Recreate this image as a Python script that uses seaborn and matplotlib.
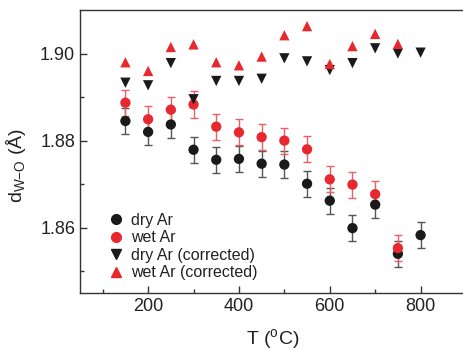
import numpy as np
import pandas as pd
import matplotlib
matplotlib.use("Agg")
import matplotlib.pyplot as plt
from matplotlib.lines import Line2D
import seaborn as sns

# ---- data ----
T_dry = [150, 200, 250, 300, 350, 400, 450, 500, 550, 600, 650, 700, 750, 800]
d_dry = [1.8845, 1.8820, 1.8837, 1.8779, 1.8756, 1.8758, 1.8747, 1.8745, 1.8701,
         1.8662, 1.8599, 1.8653, 1.8540, 1.8583]
err_dry = [0.003] * 14

T_wet = [150, 200, 250, 300, 350, 400, 450, 500, 550, 600, 650, 700, 750]
d_wet = [1.8887, 1.8849, 1.8871, 1.8883, 1.8832, 1.8819, 1.8808, 1.8800, 1.8780,
         1.8711, 1.8699, 1.8677, 1.8553]
err_wet = [0.003] * 13

d_dry_corr = [1.8933, 1.8927, 1.8978, 1.8895, 1.8937, 1.8937, 1.8942, 1.8989, 1.8982,
              1.8962, 1.8978, 1.9012, 1.9000, 1.9002]
d_wet_corr = [1.8980, 1.8960, 1.9015, 1.9021, 1.8980, 1.8973, 1.8993, 1.9042, 1.9063,
              1.8976, 1.9017, 1.9045, 1.9022]

labels = ["dry Ar", "wet Ar", "dry Ar (corrected)", "wet Ar (corrected)"]
x_ticks = [200, 400, 600, 800]
y_ticks = [1.86, 1.88, 1.90]

BLACK = "#1a1a1a"
RED = "#e8282f"

sns.set_theme(style="ticks")
plt.rcParams["font.family"] = ["Liberation Sans", "DejaVu Sans"]
plt.rcParams["mathtext.fontset"] = "custom"
plt.rcParams["mathtext.rm"] = "Liberation Sans"
plt.rcParams["mathtext.it"] = "Liberation Sans:italic"

df = pd.concat([
    pd.DataFrame({"T": T_dry, "d": d_dry, "series": labels[0]}),
    pd.DataFrame({"T": T_wet, "d": d_wet, "series": labels[1]}),
    pd.DataFrame({"T": T_dry, "d": d_dry_corr, "series": labels[2]}),
    pd.DataFrame({"T": T_wet, "d": d_wet_corr, "series": labels[3]}),
], ignore_index=True)

fig = plt.figure(figsize=(4.64, 3.5), dpi=100)
ax = fig.add_axes([80 / 464, 1 - 293 / 350, 386 / 464, 283 / 350])

ax.errorbar(T_dry, d_dry, yerr=err_dry, fmt="none", ecolor="#555555",
            elinewidth=1.0, capsize=3, capthick=1.0, zorder=2)
ax.errorbar(T_wet, d_wet, yerr=err_wet, fmt="none", ecolor="#e86068",
            elinewidth=1.0, capsize=3, capthick=1.0, zorder=2)

palette = {labels[0]: BLACK, labels[1]: RED, labels[2]: BLACK, labels[3]: RED}
markers = {labels[0]: "o", labels[1]: "o", labels[2]: "v", labels[3]: "^"}
sns.scatterplot(data=df, x="T", y="d", hue="series", style="series",
                palette=palette, markers=markers, s=55, linewidth=0,
                ax=ax, legend=False, zorder=3)

ax.set_xlim(50, 900)
ax.set_ylim(1.845, 1.910)
ax.set_xticks(x_ticks)
ax.set_xticks([100, 300, 500, 700], minor=True)
ax.set_yticks(y_ticks)
ax.set_yticks([1.85, 1.87, 1.89], minor=True)
ax.set_yticklabels([f"{v:.2f}" for v in y_ticks])
ax.tick_params(which="both", direction="in", labelsize=13, colors="#333333",
               labelcolor="#222222", width=1)
ax.tick_params(which="major", length=5)
ax.tick_params(which="minor", length=3)
for s in ax.spines.values():
    s.set_color("#333333")
    s.set_linewidth(1.0)

ax.set_xlabel(r"T ($^{\rm o}$C)", fontsize=14, color="#222222")
ax.set_ylabel(r"d$_{\rm W{-}O}$ (Å)", fontsize=14, color="#222222")
ax.xaxis.set_label_coords(0.5, -0.12)
ax.yaxis.set_label_coords(-0.135, 0.45)

handles = [
    Line2D([], [], ls="none", marker="o", color=BLACK, markersize=7),
    Line2D([], [], ls="none", marker="o", color=RED, markersize=7),
    Line2D([], [], ls="none", marker="v", color=BLACK, markersize=7),
    Line2D([], [], ls="none", marker="^", color=RED, markersize=7),
]
leg = fig.legend(handles, labels, loc="upper left",
                 bbox_to_anchor=(108 / 464, 1 - 213 / 350), frameon=False,
                 fontsize=11.5, handlelength=1.0, handletextpad=0.45,
                 labelspacing=0.15, borderpad=0, borderaxespad=0)
for t in leg.get_texts():
    t.set_color("#222222")

fig.savefig("out.png", dpi=100)
